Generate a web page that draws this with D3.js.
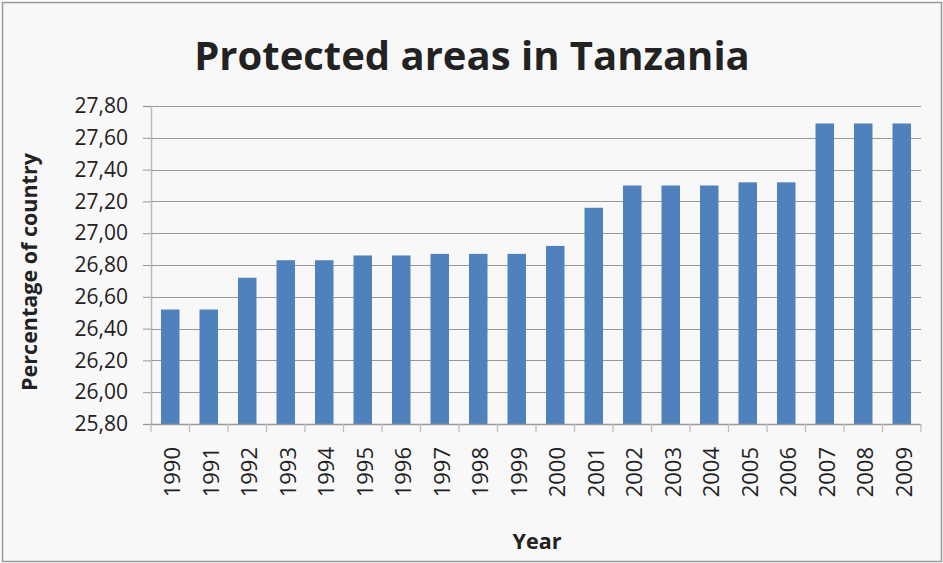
<!DOCTYPE html>
<html><head><meta charset="utf-8">
<script src="https://cdn.jsdelivr.net/npm/d3@7"></script>
<style>body{margin:0;background:#fff}svg{display:block}</style>
</head><body>
<script>
const years = ["1990","1991","1992","1993","1994","1995","1996","1997","1998","1999","2000","2001","2002","2003","2004","2005","2006","2007","2008","2009"];
const values = [26.52,26.52,26.72,26.83,26.83,26.86,26.86,26.87,26.87,26.87,26.92,27.16,27.30,27.30,27.30,27.32,27.32,27.69,27.69,27.69];
const yTicks = [25.8,26.0,26.2,26.4,26.6,26.8,27.0,27.2,27.4,27.6,27.8];

const W=943,H=563;
const svg=d3.select("body").append("svg").attr("width",W).attr("height",H);
svg.append("rect").attr("x",2.5).attr("y",2.5).attr("width",939).attr("height",559).attr("fill","#f8f8f8").attr("stroke","#999").attr("stroke-width",1.5);

const L=151,R=921,T=106,B=424;
const x=d3.scaleBand().domain(years).range([L,R]).paddingInner(0.52).paddingOuter(0.26);
const y=d3.scaleLinear().domain([25.8,27.8]).range([B,T]);
const font="'Open Sans', 'DejaVu Sans', sans-serif";

// gridlines
svg.append("g").selectAll("line").data(yTicks).join("line")
 .attr("x1",L).attr("x2",R).attr("y1",d=>Math.round(y(d))+0.5).attr("y2",d=>Math.round(y(d))+0.5)
 .attr("stroke","#999").attr("stroke-width",1.2);

// y axis
const yAxis=d3.axisLeft(y).tickValues(yTicks).tickSize(8).tickPadding(15).tickFormat(d=>d3.format(".2f")(d).replace(".",","));
const gy=svg.append("g").attr("transform",`translate(${L},0)`).call(yAxis);
gy.select(".domain").attr("stroke","#bbb").attr("stroke-width",1.5);
gy.selectAll(".tick line").attr("stroke","#999");
gy.selectAll("text").attr("font-family",font).attr("font-size",21).attr("fill","#222");

// bars
svg.append("g").selectAll("rect").data(values).join("rect")
 .attr("x",(d,i)=>x(years[i])).attr("width",x.bandwidth())
 .attr("y",d=>y(d)).attr("height",d=>B-y(d)).attr("fill","#4f81bd");

// x axis
const gx=svg.append("g").attr("transform",`translate(0,${B})`);
gx.append("line").attr("x1",L).attr("x2",R).attr("y1",0.5).attr("y2",0.5).attr("stroke","#999").attr("stroke-width",1.5);
const bounds=d3.range(years.length+1).map(i=>L+i*(R-L)/years.length);
gx.selectAll("line.t").data(bounds).join("line").attr("class","t")
 .attr("x1",d=>d).attr("x2",d=>d).attr("y1",0).attr("y2",8).attr("stroke","#bbb").attr("stroke-width",1.2);
gx.selectAll("text").data(years).join("text")
 .attr("transform",d=>`translate(${x(d)+x.bandwidth()/2+10},${23}) rotate(-90)`)
 .attr("text-anchor","end").attr("font-family",font).attr("font-size",22).attr("fill","#222").text(d=>d);

// titles
svg.append("text").attr("x",472).attr("y",70).attr("text-anchor","middle")
 .attr("font-family",font).attr("font-weight","bold").attr("font-size",40).attr("fill","#222").text("Protected areas in Tanzania");
svg.append("text").attr("transform","translate(37,272) rotate(-90)").attr("text-anchor","middle")
 .attr("font-family",font).attr("font-weight","bold").attr("font-size",21.5).attr("fill","#222").text("Percentage of country");
svg.append("text").attr("x",537).attr("y",549).attr("text-anchor","middle")
 .attr("font-family",font).attr("font-weight","bold").attr("font-size",21.5).attr("fill","#222").text("Year");
</script>
</body></html>
